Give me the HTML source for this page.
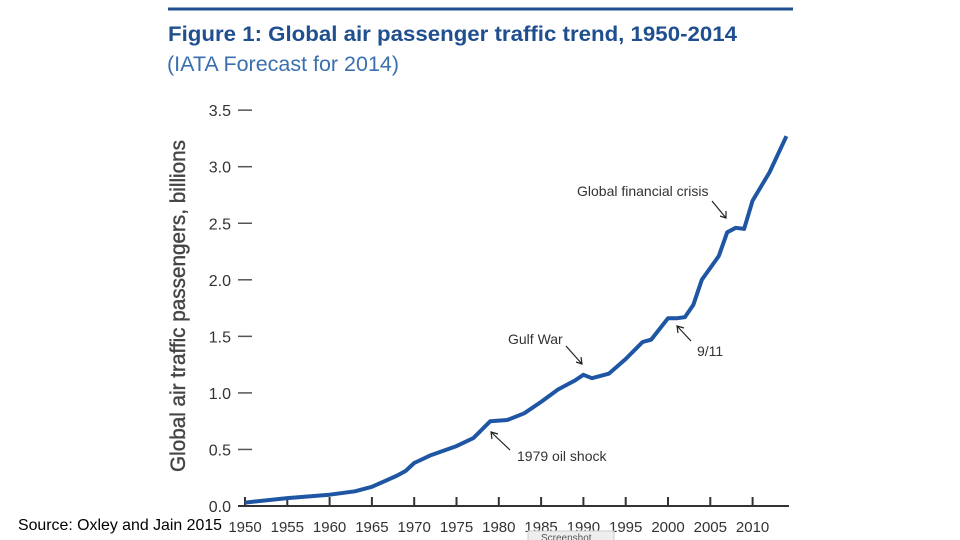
<!DOCTYPE html>
<html><head><meta charset="utf-8"><style>
body{margin:0;width:960px;height:540px;background:#fff;overflow:hidden;font-family:"Liberation Sans",sans-serif}
svg{position:absolute;left:0;top:0}
</style></head><body>
<svg width="960" height="540">
<line x1="168" y1="9" x2="793" y2="9" stroke="#1f4f8f" stroke-width="3"/>
<text x="168" y="41" font-size="21.5" font-weight="bold" fill="#1f4f8f" textLength="569" lengthAdjust="spacingAndGlyphs">Figure 1: Global air passenger traffic trend, 1950-2014</text>
<text x="167" y="71" font-size="21" fill="#3a6fb0" textLength="232" lengthAdjust="spacingAndGlyphs">(IATA Forecast for 2014)</text>
<text transform="translate(185,306) rotate(-90)" text-anchor="middle" font-size="20.8" fill="#444" stroke="#444" stroke-width="0.4" textLength="332" lengthAdjust="spacingAndGlyphs">Global air traffic passengers, billions</text>
<g id="yaxis"></g><g id="xaxis"></g>
<path id="line" fill="none" stroke="#1f56a3" stroke-width="4" stroke-linejoin="round"/>
<g font-size="14" fill="#333" font-family="Liberation Sans Narrow,Liberation Sans,sans-serif" stroke="#222" stroke-width="1.2">
<text x="577" y="196" stroke="none">Global financial crisis</text>
<path d="M712 201 L726 218 M720 216 L726 218 L726 211" fill="none"/>
<text x="508" y="344" stroke="none">Gulf War</text>
<path d="M566 346 L582 364 M576 362 L582 364 L581 357" fill="none"/>
<text x="697" y="356" stroke="none">9/11</text>
<path d="M691 341 L677 326 M678 333 L677 326 L684 328" fill="none"/>
<text x="517" y="461" stroke="none">1979 oil shock</text>
<path d="M510 450 L491 432 M492 439 L491 432 L498 434" fill="none"/>
</g>
<text x="18" y="530" font-size="15.8" fill="#000" textLength="204" lengthAdjust="spacingAndGlyphs" font-family="Liberation Sans,sans-serif">Source: Oxley and Jain 2015</text>
<rect x="528" y="531" width="86" height="12" fill="#eee" stroke="#ccc"/>
<text x="541" y="541" font-size="10" fill="#555">Screenshot</text>
</svg>
<script>
const years=[1950,1955,1960,1963,1965,1968,1969,1970,1972,1975,1977,1979,1981,1983,1985,1987,1989,1990,1991,1993,1995,1997,1998,2000,2001,2002,2003,2004,2006,2007,2008,2009,2010,2012,2014];
const passengers=[0.03,0.07,0.10,0.13,0.17,0.27,0.31,0.38,0.45,0.53,0.60,0.75,0.76,0.82,0.92,1.03,1.11,1.16,1.13,1.17,1.30,1.45,1.47,1.66,1.66,1.67,1.78,2.0,2.21,2.42,2.46,2.45,2.70,2.95,3.27];
const yTicks=["0.0","0.5","1.0","1.5","2.0","2.5","3.0","3.5"];
const xTicks=[1950,1955,1960,1965,1970,1975,1980,1985,1990,1995,2000,2005,2010];
const NS="http://www.w3.org/2000/svg";
const x=v=>245+(v-1950)*8.46, y=v=>506-v*113.1;
function mk(t,a,p){const e=document.createElementNS(NS,t);for(const k in a)e.setAttribute(k,a[k]);p.appendChild(e);return e;}
const ya=document.getElementById('yaxis'),xa=document.getElementById('xaxis');
yTicks.forEach(t=>{const v=parseFloat(t);
 const tx=mk('text',{x:231,y:y(v)+6,'text-anchor':'end','font-size':16,fill:'#333'},ya);tx.textContent=t;
 
 
 if(v>0){const l=mk('line',{x1:238,x2:252,y1:y(v),y2:y(v),stroke:'#555','stroke-width':1.5},ya);
 
 }
});
const ax=mk('line',{x1:238,x2:789,y1:506,y2:506,stroke:'#333','stroke-width':2},xa);


xTicks.forEach(t=>{
 const l=mk('line',{x1:x(t),x2:x(t),y1:497,y2:506,stroke:'#333','stroke-width':2},xa);
 
 
 const tx=mk('text',{x:x(t),y:532,'text-anchor':'middle','font-size':15,fill:'#333'},xa);tx.textContent=t;
 
 
});
document.getElementById('line').setAttribute('d',years.map((yr,i)=>(i?'L':'M')+x(yr).toFixed(1)+' '+y(passengers[i]).toFixed(1)).join(' '));
</script>
</body></html>
